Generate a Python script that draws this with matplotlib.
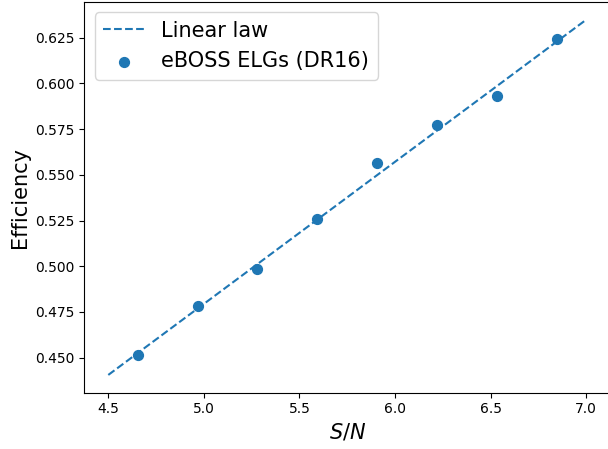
import numpy as np
import matplotlib
matplotlib.use('Agg')
import matplotlib.pyplot as plt

sn_points = [4.654, 4.967, 5.280, 5.593, 5.908, 6.221, 6.535, 6.848]
eff_points = [0.4515, 0.4783, 0.4983, 0.5259, 0.5563, 0.5771, 0.5931, 0.6241]

# linear law endpoints
sn_line = [4.5, 7.0]
slope = 0.07768
intercept = 0.0910

fig = plt.figure(figsize=(6.08, 4.49), dpi=100)
ax = fig.add_axes([0.1388, 0.1254, 1.0033 - 0.1388, 0.9955 - 0.1254])

x_line = np.array(sn_line)
ax.plot(x_line, slope * x_line + intercept, '--', color='C0', label='Linear law')
ax.scatter(sn_points, eff_points, s=50, color='C0', label='eBOSS ELGs (DR16)')

ax.set_xlabel('$S/N$', fontsize=15)
ax.set_ylabel('Efficiency', fontsize=15)
ax.set_yticks([0.450, 0.475, 0.500, 0.525, 0.550, 0.575, 0.600, 0.625])
ax.legend(loc='upper left', fontsize=15)

fig.savefig('out.png', dpi=100)
